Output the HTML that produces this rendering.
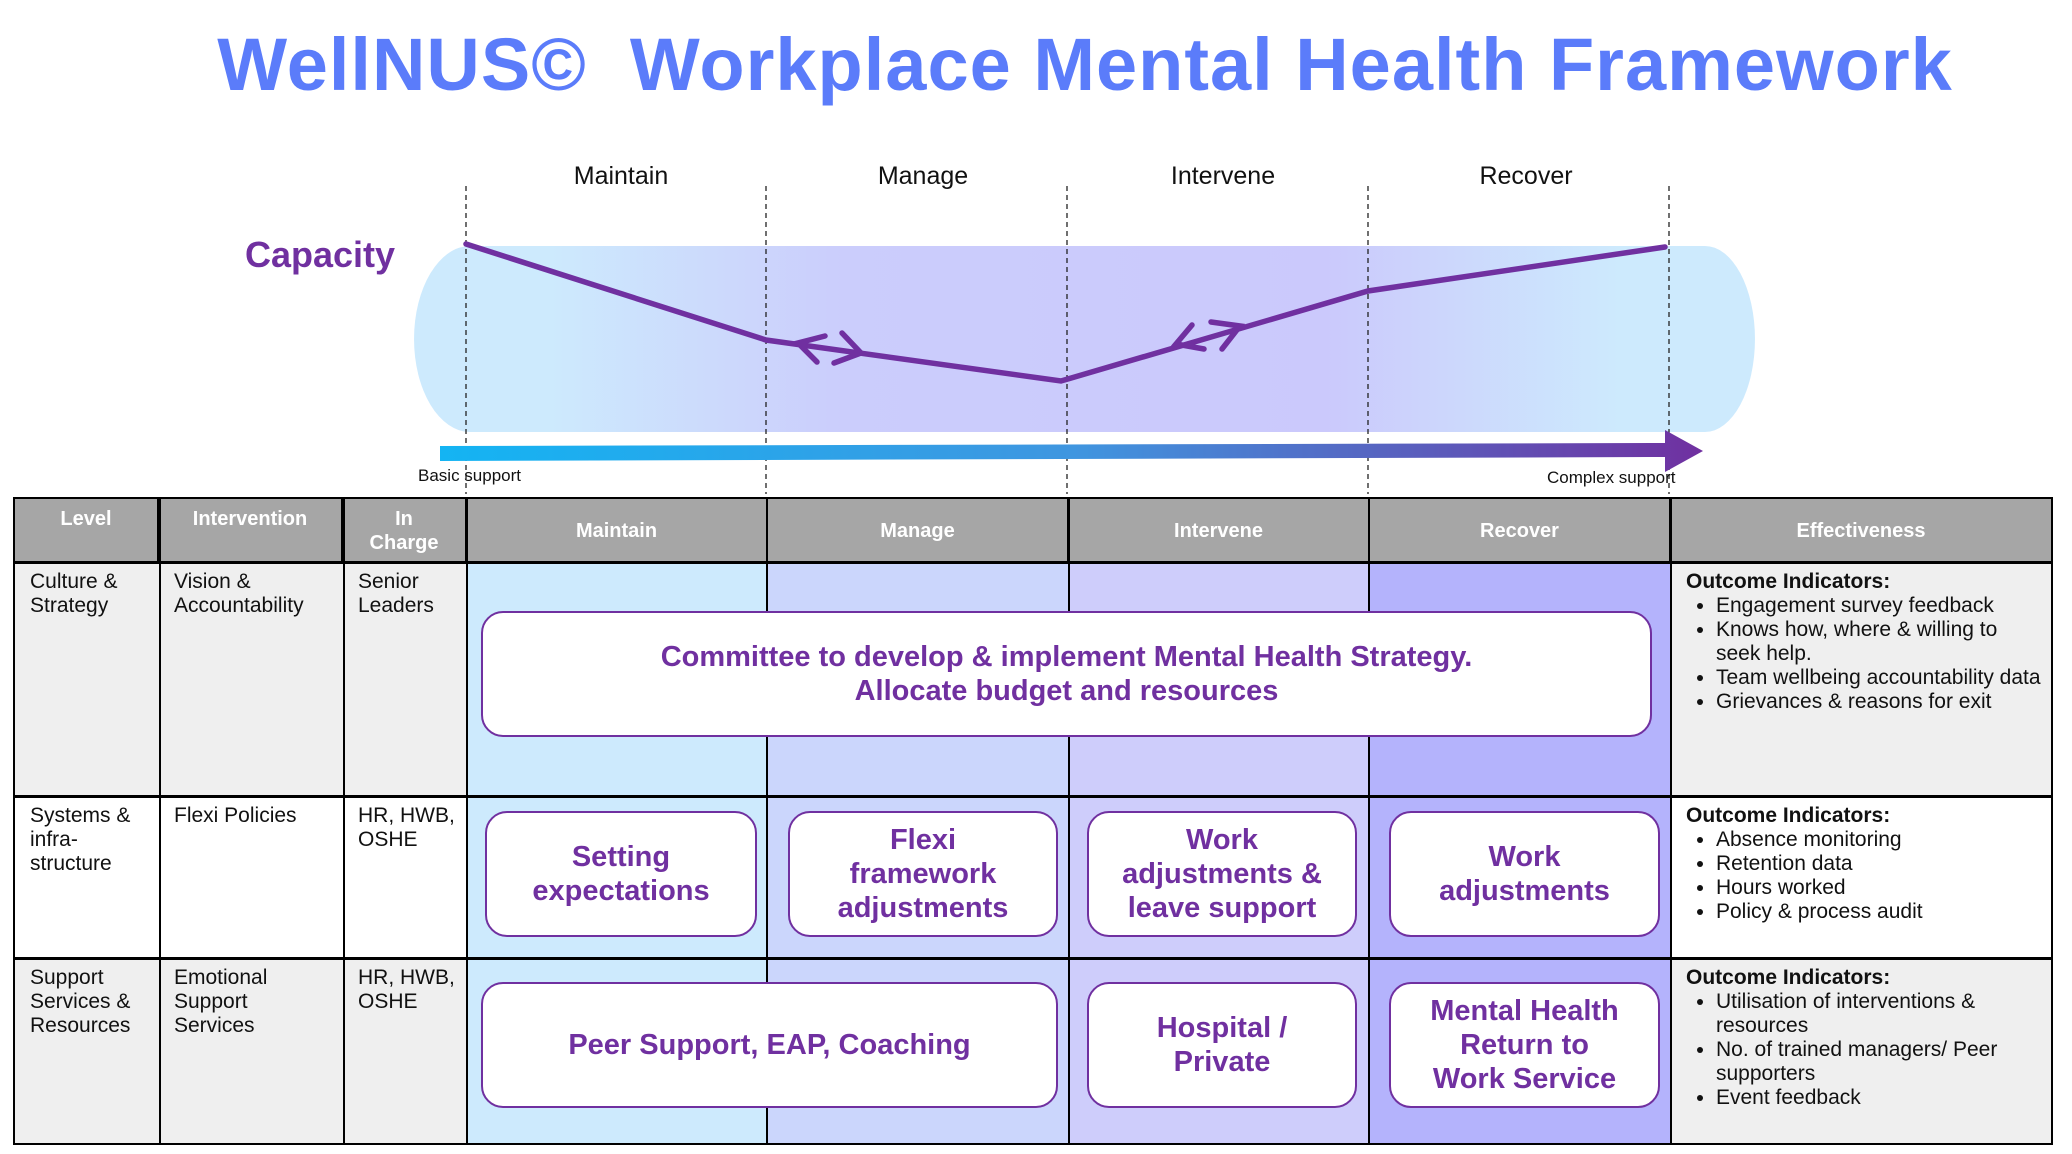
<!DOCTYPE html>
<html><head><meta charset="utf-8"><style>
body{margin:0;width:2072px;height:1154px;background:#fff;position:relative;overflow:hidden;font-family:"Liberation Sans",sans-serif;}
.a{position:absolute;}
.title{left:200px;top:22px;width:1770px;text-align:center;font-size:74px;font-weight:bold;color:#5b7cfa;white-space:nowrap;letter-spacing:1px}
.ph{font-size:25px;color:#111;top:162px;width:200px;text-align:center}
.cell{position:absolute;font-size:21px;line-height:24px;color:#111;padding:6px 0 0 15px;box-sizing:border-box}
.hd{position:absolute;background:#a6a6a6;color:#fff;font-size:20px;font-weight:bold;text-align:center;line-height:24px;box-sizing:border-box;border-right:2px solid #000}
.box{position:absolute;background:#fff;border:2px solid #7030a0;border-radius:22px;box-sizing:border-box;display:flex;align-items:center;justify-content:center;text-align:center;color:#7030a0;font-size:29px;font-weight:bold;line-height:34px}
ul{margin:0;padding:0 0 0 30px}
li{margin:0}
</style></head><body>
<div class="a title">WellNUS©&nbsp; Workplace Mental Health Framework</div>
<svg class="a" style="left:0;top:0" width="2072" height="500">
<defs>
<linearGradient id="cg" x1="0" x2="1"><stop offset="0" stop-color="#cdeafd"/><stop offset="0.1" stop-color="#cdeafd"/><stop offset="0.32" stop-color="#cbcdfc"/><stop offset="0.68" stop-color="#cbc9fc"/><stop offset="0.9" stop-color="#cdeafd"/><stop offset="1" stop-color="#cdeafd"/></linearGradient>
<linearGradient id="ag" x1="0" x2="1"><stop offset="0" stop-color="#14b4f3"/><stop offset="0.5" stop-color="#3f96e0"/><stop offset="1" stop-color="#7030a0"/></linearGradient>
</defs>
<path d="M470,246 L1705,246 A50,93 0 0 1 1705,432 L470,432 A56,93 0 0 1 470,246 Z" fill="url(#cg)"/>
<g stroke="#222" stroke-width="1.3" stroke-dasharray="5,4">
<line x1="466" y1="186" x2="466" y2="494"/><line x1="766" y1="186" x2="766" y2="494"/><line x1="1067" y1="186" x2="1067" y2="494"/><line x1="1368" y1="186" x2="1368" y2="494"/><line x1="1669" y1="186" x2="1669" y2="494"/>
</g>
<g stroke="#7030a0" stroke-width="5.5" fill="none" stroke-linecap="round" stroke-linejoin="miter">
<polyline points="466,244 766,340 1061,381 1368,291 1665,247"/>
<polyline points="825,336 798,343 817,362"/>
<polyline points="842,333 861,353 834,363"/>
<polyline points="1192,325 1176,344 1204,349"/>
<polyline points="1211,322 1240,326 1222,349"/>
</g>
<polygon points="440,446 1665,443 1665,430 1703,451 1665,472 1665,457 440,461" fill="url(#ag)"/>
<text x="245" y="267" font-size="36" fill="#7030a0" font-family="Liberation Sans" font-weight="bold">Capacity</text>
<text x="418" y="481" font-size="17" fill="#111" font-family="Liberation Sans">Basic support</text>
<text x="1547" y="483" font-size="17" fill="#111" font-family="Liberation Sans">Complex support</text>
</svg>
<div class="a ph" style="left:521px">Maintain</div>
<div class="a ph" style="left:823px">Manage</div>
<div class="a ph" style="left:1123px">Intervene</div>
<div class="a ph" style="left:1426px">Recover</div>

<!-- table -->
<div class="a" style="left:13px;top:497px;width:2040px;height:648px;border:2px solid #000;box-sizing:border-box;background:#fff"></div>
<div class="hd" style="left:15px;top:499px;width:144px;height:62px;padding-top:8px">Level</div>
<div class="hd" style="left:159px;top:499px;width:184px;height:62px;padding-top:8px">Intervention</div>
<div class="hd" style="left:343px;top:499px;width:124px;height:62px;padding-top:8px">In<br>Charge</div>
<div class="hd" style="left:467px;top:499px;width:301px;height:62px;padding-top:20px">Maintain</div>
<div class="hd" style="left:768px;top:499px;width:301px;height:62px;padding-top:20px">Manage</div>
<div class="hd" style="left:1069px;top:499px;width:301px;height:62px;padding-top:20px">Intervene</div>
<div class="hd" style="left:1370px;top:499px;width:301px;height:62px;padding-top:20px">Recover</div>
<div class="hd" style="left:1671px;top:499px;width:380px;height:62px;padding-top:20px;border-right:none">Effectiveness</div>
<div class="a" style="left:15px;top:561px;width:2036px;height:3px;background:#000"></div>

<!-- row backgrounds -->
<div class="a" style="left:15px;top:564px;width:452px;height:231px;background:#efefef"></div>
<div class="a" style="left:15px;top:960px;width:452px;height:183px;background:#efefef"></div>
<div class="a" style="left:1671px;top:564px;width:380px;height:231px;background:#efefef"></div>
<div class="a" style="left:1671px;top:960px;width:380px;height:183px;background:#efefef"></div>
<div class="a" style="left:467px;top:564px;width:301px;height:579px;background:#cdeafd"></div>
<div class="a" style="left:768px;top:564px;width:301px;height:579px;background:#cbd6fc"></div>
<div class="a" style="left:1069px;top:564px;width:301px;height:579px;background:#cecdfb"></div>
<div class="a" style="left:1370px;top:564px;width:301px;height:579px;background:#b4b3fc"></div>

<!-- grid lines -->
<div class="a" style="left:159px;top:499px;width:2px;height:644px;background:#000"></div>
<div class="a" style="left:343px;top:499px;width:2px;height:644px;background:#000"></div>
<div class="a" style="left:466px;top:499px;width:2px;height:644px;background:#000"></div>
<div class="a" style="left:766px;top:499px;width:1.5px;height:644px;background:#000"></div>
<div class="a" style="left:1068px;top:499px;width:2px;height:644px;background:#000"></div>
<div class="a" style="left:1368px;top:499px;width:2px;height:644px;background:#000"></div>
<div class="a" style="left:1670px;top:499px;width:2px;height:644px;background:#000"></div>
<div class="a" style="left:15px;top:795px;width:2036px;height:3px;background:#000"></div>
<div class="a" style="left:15px;top:957px;width:2036px;height:3px;background:#000"></div>

<div class="cell" style="left:15px;top:564px;width:144px">Culture &amp;<br>Strategy</div>
<div class="cell" style="left:159px;top:564px;width:184px">Vision &amp;<br>Accountability</div>
<div class="cell" style="left:343px;top:564px;width:124px">Senior<br>Leaders</div>
<div class="cell" style="left:1671px;top:564px;width:372px"><b>Outcome Indicators:</b><ul><li>Engagement survey feedback</li><li>Knows how, where &amp; willing to seek help.</li><li>Team wellbeing accountability data</li><li>Grievances &amp; reasons for exit</li></ul></div>

<div class="cell" style="left:15px;top:798px;width:144px">Systems &amp;<br>infra-<br>structure</div>
<div class="cell" style="left:159px;top:798px;width:184px">Flexi Policies</div>
<div class="cell" style="left:343px;top:798px;width:124px">HR, HWB,<br>OSHE</div>
<div class="cell" style="left:1671px;top:798px;width:372px"><b>Outcome Indicators:</b><ul><li>Absence monitoring</li><li>Retention data</li><li>Hours worked</li><li>Policy &amp; process audit</li></ul></div>

<div class="cell" style="left:15px;top:960px;width:144px">Support<br>Services &amp;<br>Resources</div>
<div class="cell" style="left:159px;top:960px;width:184px">Emotional<br>Support<br>Services</div>
<div class="cell" style="left:343px;top:960px;width:124px">HR, HWB,<br>OSHE</div>
<div class="cell" style="left:1671px;top:960px;width:372px"><b>Outcome Indicators:</b><ul><li>Utilisation of interventions &amp; resources</li><li>No. of trained managers/ Peer supporters</li><li>Event feedback</li></ul></div>

<div class="box" style="left:481px;top:611px;width:1171px;height:126px">Committee to develop &amp; implement Mental Health Strategy.<br>Allocate budget and resources</div>
<div class="box" style="left:485px;top:811px;width:272px;height:126px">Setting<br>expectations</div>
<div class="box" style="left:788px;top:811px;width:270px;height:126px">Flexi<br>framework<br>adjustments</div>
<div class="box" style="left:1087px;top:811px;width:270px;height:126px">Work<br>adjustments &amp;<br>leave support</div>
<div class="box" style="left:1389px;top:811px;width:271px;height:126px">Work<br>adjustments</div>
<div class="box" style="left:481px;top:982px;width:577px;height:126px">Peer Support, EAP, Coaching</div>
<div class="box" style="left:1087px;top:982px;width:270px;height:126px">Hospital /<br>Private</div>
<div class="box" style="left:1389px;top:982px;width:271px;height:126px">Mental Health<br>Return to<br>Work Service</div>
</body></html>
